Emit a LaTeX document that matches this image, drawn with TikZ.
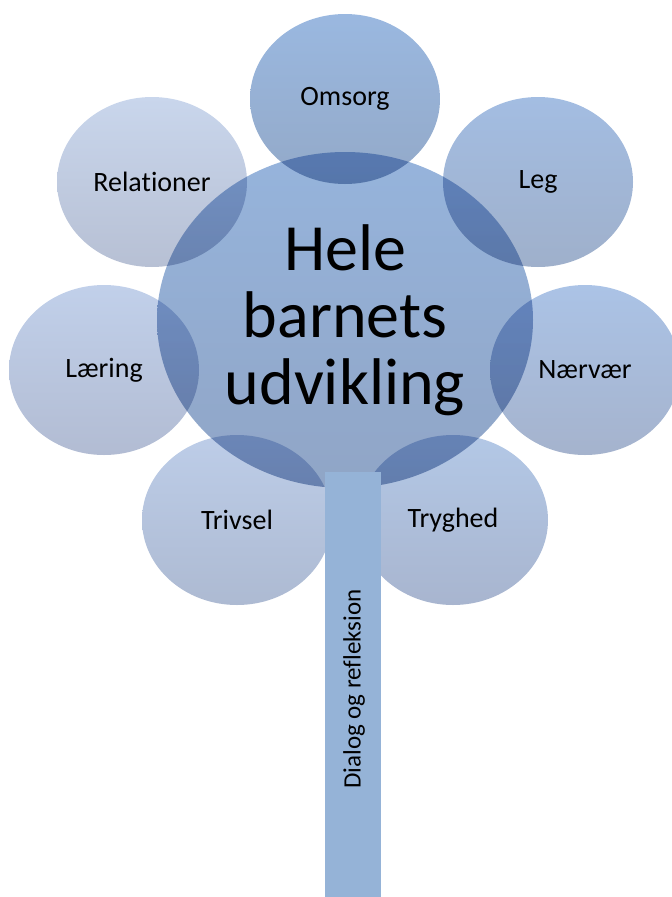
\documentclass[tikz,border=0pt]{standalone}
\usepackage{fontspec}
\setmainfont{Carlito}[Ligatures=NoCommon]
\usetikzlibrary{shapes.geometric}
\definecolor{cTop}{RGB}{150,180,220}
\definecolor{cBot}{RGB}{144,165,198}
\definecolor{omT}{RGB}{154,184,224}
\definecolor{omB}{RGB}{147,169,200}
\definecolor{lgT}{RGB}{163,189,226}
\definecolor{lgB}{RGB}{159,176,203}
\definecolor{naT}{RGB}{171,195,230}
\definecolor{naB}{RGB}{165,179,205}
\definecolor{tyT}{RGB}{179,200,230}
\definecolor{tyB}{RGB}{168,181,207}
\definecolor{tvT}{RGB}{189,205,232}
\definecolor{tvB}{RGB}{173,186,210}
\definecolor{laT}{RGB}{193,208,234}
\definecolor{laB}{RGB}{178,188,211}
\definecolor{reT}{RGB}{201,214,236}
\definecolor{reB}{RGB}{183,192,212}
\definecolor{stemc}{RGB}{149,179,215}
\begin{document}
\begin{tikzpicture}[x=1pt,y=-1pt,
  petal/.style={ellipse, inner sep=0pt, minimum width=190pt, minimum height=170pt,
    blend mode=multiply, font=\fontsize{28}{32}\selectfont},
  hub/.style={ellipse, inner sep=0pt, minimum width=376pt, minimum height=336pt,
    blend mode=multiply, align=center, font=\fontsize{66}{67}\selectfont},
  stembox/.style={rectangle, inner sep=0pt, fill=stemc, minimum width=56pt, minimum height=425pt},
  stemtext/.style={rotate=90, inner sep=0pt, font=\fontsize{25}{30}\selectfont}]
\useasboundingbox (0,0) rectangle (672,897);
\clip (0,0) rectangle (672,897);
\node[hub, top color=cTop, bottom color=cBot] (center) at (345,320) {Hele\\barnets\\udvikling};
\node[petal, top color=omT, bottom color=omB] (omsorg) at (345,99) {Omsorg};
\node[petal, top color=lgT, bottom color=lgB] (leg) at (538,182) {Leg};
\node[petal, top color=naT, bottom color=naB] (naervaer) at (585,370) {Nærvær};
\node[petal, top color=tyT, bottom color=tyB] (tryghed) at (453,520) {Tryghed};
\node[petal, top color=tvT, bottom color=tvB] (trivsel) at (237,520) {Trivsel};
\node[petal, top color=laT, bottom color=laB] (laering) at (104,370) {Læring};
\node[petal, top color=reT, bottom color=reB] (relationer) at (152,182) {Relationer};
\node[stembox, anchor=north] (stem) at (353,472) {};
\node[stemtext] (stemlabel) at (354,689) {Dialog og refleksion};
\end{tikzpicture}
\end{document}
